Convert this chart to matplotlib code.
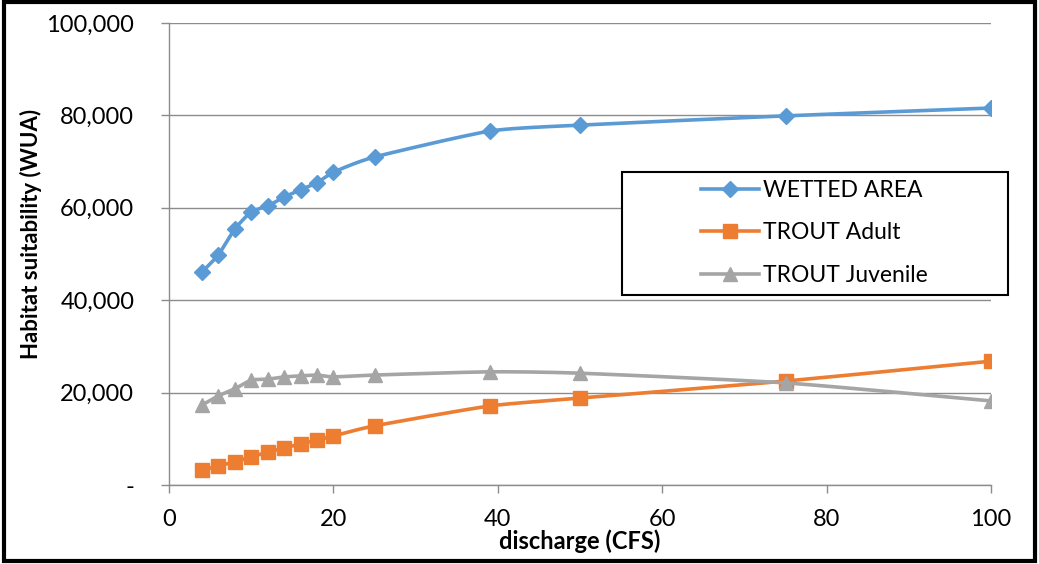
import numpy as np
import matplotlib.pyplot as plt
from matplotlib.patches import Rectangle
from matplotlib.ticker import FuncFormatter

# Datos
caudal = [4, 6, 8, 10, 12, 14, 16, 18, 20, 25, 39, 50, 75, 100]
area_mojada = [46100, 49800, 55400, 59100, 60400, 62300, 63900, 65400,
               67700, 71000, 76600, 77900, 79900, 81600]
trucha_adulta = [3200, 4100, 5000, 6100, 7100, 8000, 8900, 9700,
                 10600, 12800, 17100, 18800, 22500, 26800]
trucha_juvenil = [17300, 19300, 20800, 22700, 22900, 23400, 23600, 23800,
                  23400, 23800, 24500, 24200, 22100, 18200]

x_ticks = [0, 20, 40, 60, 80, 100]
y_ticks = [0, 20000, 40000, 60000, 80000, 100000]


def suavizar(x, y, n=20):
    # Curva Catmull-Rom (similar a la linea suavizada de Excel)
    x = np.asarray(x, float)
    y = np.asarray(y, float)
    px = np.concatenate([[x[0]], x, [x[-1]]])
    py = np.concatenate([[y[0]], y, [y[-1]]])
    xs, ys = [], []
    t = np.linspace(0, 1, n)
    for i in range(1, len(px) - 2):
        for p, out in ((px, xs), (py, ys)):
            p0, p1, p2, p3 = p[i - 1], p[i], p[i + 1], p[i + 2]
            m1 = (p2 - p0) / 2 * 0.6
            m2 = (p3 - p1) / 2 * 0.6
            h00 = 2 * t**3 - 3 * t**2 + 1
            h10 = t**3 - 2 * t**2 + t
            h01 = -2 * t**3 + 3 * t**2
            h11 = t**3 - t**2
            out.extend(h00 * p1 + h10 * m1 + h01 * p2 + h11 * m2)
    return np.array(xs), np.array(ys)


plt.rcParams['font.family'] = ['Lato', 'DejaVu Sans']

fig = plt.figure(figsize=(10.39, 5.64), dpi=100)
ax = fig.add_axes([169 / 1039, 1 - 485 / 564, 822 / 1039, 462 / 564])

series = [
    (area_mojada, '#5B9BD5', 'D', 'WETTED AREA', 8.5),
    (trucha_adulta, '#ED7D31', 's', 'TROUT Adult', 9.5),
    (trucha_juvenil, '#A5A5A5', '^', 'TROUT Juvenile', 9.5),
]
for valores, color, marcador, nombre, ms in series:
    xs, ys = suavizar(caudal, valores)
    ax.plot(xs, ys, color=color, lw=2.6, solid_capstyle='round')
    ax.plot(caudal, valores, linestyle='none', marker=marcador, color=color,
            markersize=ms)
    ax.plot([], [], color=color, lw=2.6, marker=marcador, markersize=ms,
            label=nombre)

ax.set_xlim(0, 100)
ax.set_ylim(0, 100000)
ax.set_xticks(x_ticks)
ax.set_yticks(y_ticks)
ax.yaxis.set_major_formatter(
    FuncFormatter(lambda v, p: '-' if v == 0 else f'{v:,.0f}'))

ax.grid(axis='y', color='#8C8C8C', lw=1)
ax.set_axisbelow(True)
for lado in ['top', 'right']:
    ax.spines[lado].set_visible(False)
for lado in ['left', 'bottom']:
    ax.spines[lado].set_color('#8C8C8C')
    ax.spines[lado].set_linewidth(1)
ax.tick_params(axis='both', colors='#8C8C8C', length=6, width=1,
               labelsize=17, labelcolor='black')
ax.tick_params(axis='y', pad=19)
ax.tick_params(axis='x', pad=11)

ax.set_xlabel('discharge (CFS)', fontsize=17, fontweight='bold', labelpad=0)
ax.set_ylabel('Habitat suitability (WUA)', fontsize=16, fontweight='bold')
ax.yaxis.set_label_coords(-0.1545, 0.543)

# Leyenda sin marco + recuadro aparte
leg = ax.legend(loc='center left',
                bbox_to_anchor=(701 / 1039, 1 - 233 / 564),
                bbox_transform=fig.transFigure,
                fontsize=16.5, frameon=False, borderpad=0,
                handlelength=2.55, labelspacing=0.95, handletextpad=0.15,
                borderaxespad=0)
leg.set_zorder(6)
caja = Rectangle((622 / 1039, 1 - 295 / 564), 386 / 1039, 123 / 564,
                 transform=fig.transFigure, facecolor='white',
                 edgecolor='black', lw=1.5, zorder=5, clip_on=False)
ax.add_artist(caja)

# Marco exterior
fig.patches.append(Rectangle((0.004, 0.006), 0.992, 0.99, transform=fig.transFigure,
                             fill=False, edgecolor='black', lw=3))

fig.savefig('out.png', dpi=100)
